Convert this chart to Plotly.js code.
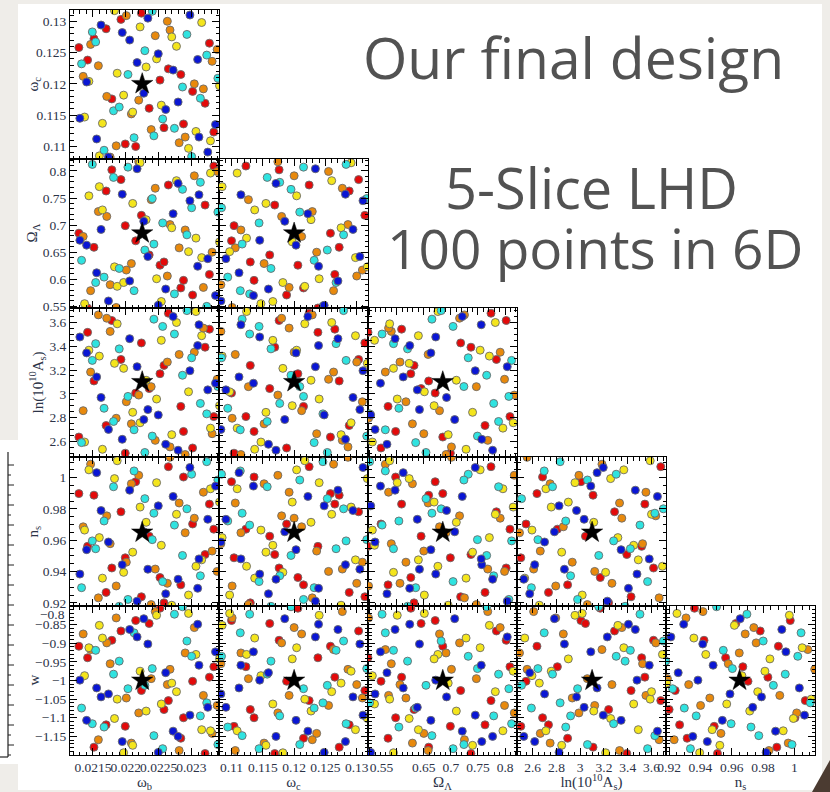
<!DOCTYPE html>
<html>
<head>
<meta charset="utf-8">
<script src="https://cdn.plot.ly/plotly-3.0.1.min.js"></script>
<style>
  html, body { margin: 0; padding: 0; background: #efede9; }
  #chart { width: 830px; height: 792px; }
</style>
</head>
<body>
<div id="chart"></div>
<script>
// 5-slice Latin hypercube design: 5 slices, six cosmological parameters per point.
// Slice 0 red, 1 orange, 2 yellow, 3 cyan, 4 blue.
const slices = [0, 1, 2, 3, 4];
const sliceNames = ['Slice 1', 'Slice 2', 'Slice 3', 'Slice 4', 'Slice 5'];

const omegaB = [
  [0.021285, 0.021418, 0.021515, 0.021700, 0.021787, 0.021926, 0.021992, 0.022151, 0.022238, 0.022356,
   0.022521, 0.022582, 0.022649, 0.022838, 0.022879, 0.023018, 0.023208, 0.023274, 0.023341],
  [0.021351, 0.021464, 0.021582, 0.021710, 0.021762, 0.021854, 0.022008, 0.022085, 0.022197, 0.022387,
   0.022449, 0.022633, 0.022674, 0.022813, 0.022905, 0.023044, 0.023182, 0.023315, 0.023392],
  [0.021372, 0.021438, 0.021597, 0.021644, 0.021828, 0.021869, 0.021967, 0.022105, 0.022218, 0.022310,
   0.022469, 0.022541, 0.022700, 0.022772, 0.022956, 0.023069, 0.023156, 0.023290, 0.023428],
  [0.021326, 0.021490, 0.021541, 0.021669, 0.021813, 0.021900, 0.022033, 0.022126, 0.022290, 0.022403,
   0.022428, 0.022562, 0.022741, 0.022864, 0.022931, 0.023003, 0.023136, 0.023233, 0.023403],
  [0.021300, 0.021403, 0.021556, 0.021623, 0.021736, 0.021946, 0.022059, 0.022172, 0.022274, 0.022336,
   0.022495, 0.022608, 0.022721, 0.022797, 0.022977, 0.023095, 0.023115, 0.023249, 0.023367]
];

const omegaC = [
  [0.1258, 0.1238, 0.1272, 0.1288, 0.1176, 0.1303, 0.1104, 0.1100, 0.1313, 0.1161,
   0.1206, 0.1130, 0.1224, 0.1215, 0.1136, 0.1188, 0.1169, 0.1265, 0.1123],
  [0.1212, 0.1263, 0.1229, 0.1180, 0.1083, 0.1101, 0.1309, 0.1152, 0.1174, 0.1127,
   0.1277, 0.1300, 0.1286, 0.1106, 0.1115, 0.1200, 0.1192, 0.1236, 0.1255],
  [0.1147, 0.1204, 0.1085, 0.1137, 0.1317, 0.1217, 0.1182, 0.1155, 0.1291, 0.1227,
   0.1240, 0.1166, 0.1275, 0.1260, 0.1097, 0.1124, 0.1298, 0.1109, 0.1197],
  [0.1232, 0.1283, 0.1267, 0.1094, 0.1157, 0.1163, 0.1215, 0.1114, 0.1253, 0.1316,
   0.1117, 0.1144, 0.1129, 0.1195, 0.1279, 0.1084, 0.1177, 0.1246, 0.1209],
  [0.1145, 0.1203, 0.1112, 0.1294, 0.1083, 0.1282, 0.1270, 0.1234, 0.1185, 0.1305,
   0.1248, 0.1159, 0.1222, 0.1171, 0.1310, 0.1239, 0.1115, 0.1091, 0.1135]
];

const omegaL = [
  [0.685, 0.547, 0.659, 0.763, 0.802, 0.784, 0.699, 0.671, 0.718, 0.645,
   0.626, 0.632, 0.774, 0.584, 0.598, 0.571, 0.737, 0.609, 0.809],
  [0.679, 0.579, 0.725, 0.716, 0.590, 0.548, 0.617, 0.629, 0.817, 0.747,
   0.768, 0.606, 0.701, 0.658, 0.691, 0.791, 0.585, 0.650, 0.799],
  [0.555, 0.754, 0.771, 0.728, 0.623, 0.587, 0.594, 0.740, 0.815, 0.710,
   0.601, 0.559, 0.695, 0.782, 0.651, 0.676, 0.640, 0.796, 0.669],
  [0.635, 0.812, 0.594, 0.604, 0.788, 0.620, 0.807, 0.579, 0.654, 0.749,
   0.665, 0.704, 0.573, 0.766, 0.682, 0.732, 0.779, 0.550, 0.724],
  [0.672, 0.663, 0.612, 0.692, 0.560, 0.757, 0.597, 0.804, 0.707, 0.642,
   0.552, 0.582, 0.721, 0.777, 0.745, 0.624, 0.756, 0.638, 0.570]
];

const lnAs = [
  [2.636, 3.517, 3.108, 2.733, 3.617, 3.289, 2.500, 3.006, 3.428, 3.044,
   3.169, 3.239, 3.678, 2.894, 2.683, 2.544, 3.392, 3.544, 2.808],
  [2.858, 3.183, 3.664, 3.636, 3.525, 2.794, 2.933, 2.747, 2.989, 3.060,
   2.608, 3.267, 2.553, 3.331, 2.489, 3.350, 3.553, 2.664, 3.122],
  [2.594, 3.367, 3.317, 2.533, 3.256, 3.589, 3.214, 2.844, 2.756, 3.114,
   2.956, 3.450, 2.656, 3.600, 3.017, 3.692, 3.489, 2.711, 2.900],
  [2.589, 3.281, 3.422, 2.878, 2.767, 3.378, 2.978, 2.697, 2.506, 2.644,
   3.628, 3.567, 3.503, 3.156, 3.700, 3.303, 2.919, 2.831, 3.061],
  [3.478, 3.344, 3.142, 2.969, 2.700, 2.617, 3.464, 3.228, 2.783, 2.867,
   2.822, 2.575, 3.650, 2.525, 3.194, 3.406, 3.581, 3.033, 3.089]
];

const nS = [
  [0.9898, 0.9561, 0.9888, 0.9267, 0.9423, 0.9782, 0.9488, 0.9974, 0.9239, 0.9626,
   0.9362, 0.9200, 1.0070, 0.9315, 1.0004, 0.9704, 0.9509, 0.9831, 0.9671],
  [0.9686, 1.0086, 0.9232, 0.9756, 0.9578, 0.9308, 0.9460, 0.9961, 1.0015, 0.9189,
   0.9416, 0.9325, 1.0130, 0.9838, 0.9648, 0.9741, 0.9907, 0.9531, 0.9401],
  [0.9665, 1.0050, 0.9617, 0.9358, 0.9994, 1.0108, 0.9395, 0.9524, 0.9812, 0.9715,
   0.9968, 0.9568, 0.9185, 0.9766, 0.9250, 0.9434, 0.9475, 0.9929, 0.9844],
  [0.9297, 0.9596, 0.9546, 0.9723, 0.9942, 0.9178, 0.9222, 1.0043, 0.9866, 0.9604,
   0.9773, 0.9336, 0.9697, 0.9503, 0.9801, 1.0022, 0.9373, 1.0102, 0.9985],
  [0.9384, 0.9540, 1.0032, 0.9790, 0.9589, 0.9444, 0.9920, 0.9211, 0.9654, 0.9415,
   0.9820, 0.9258, 0.9880, 0.9351, 1.0065, 0.9293, 0.9481, 0.9734, 0.9946]
];

const wDE = [
  [-0.908, -0.939, -1.179, -1.119, -0.892, -0.867, -1.123, -0.839, -1.027, -0.847,
   -0.806, -1.078, -1.054, -1.155, -1.100, -1.002, -1.196, -0.991, -0.963],
  [-0.875, -0.917, -1.159, -0.899, -0.955, -0.832, -1.047, -1.168, -1.087, -0.995,
   -0.815, -1.011, -0.970, -1.188, -0.926, -0.858, -1.040, -1.142, -1.067],
  [-0.987, -0.912, -0.852, -0.886, -1.102, -1.050, -1.194, -1.174, -0.975, -1.082,
   -0.825, -1.063, -1.007, -1.030, -0.820, -0.930, -1.132, -1.135, -0.942],
  [-1.074, -1.116, -0.919, -1.125, -0.983, -0.948, -1.022, -0.872, -1.013, -0.968,
   -1.148, -1.183, -0.822, -0.802, -0.894, -0.935, -1.095, -1.060, -1.172],
  [-0.999, -1.107, -1.020, -1.044, -1.036, -1.164, -0.863, -0.883, -0.834, -0.902,
   -1.193, -0.979, -1.136, -1.150, -1.093, -0.849, -0.959, -1.072, -0.923]
];

// Fiducial cosmology (star)
const fiducial = { omegaB: 0.02225, omegaC: 0.12, omegaL: 0.685, lnAs: 3.1, nS: 0.965, w: -1 };

// Tick values and labels per parameter
const obTicks = [0.0215, 0.022, 0.0225, 0.023];
const obLabels = ['0.0215', '0.022', '0.0225', '0.023'];
const ocTicks = [0.11, 0.115, 0.12, 0.125, 0.13];
const ocLabels = ['0.11', '0.115', '0.12', '0.125', '0.13'];
const olTicks = [0.55, 0.6, 0.65, 0.7, 0.75, 0.8];
const olLabels = ['0.55', '0.6', '0.65', '0.7', '0.75', '0.8'];
const olLabelsX = ['\u00a0\u00a0\u00a0\u00a0\u00a0\u00a0\u00a00.55', ' ', '0.65', '0.7', '0.75', '0.8'];
const lnAsTicks = [2.6, 2.8, 3, 3.2, 3.4, 3.6];
const lnAsLabels = ['2.6', '2.8', '3', '3.2', '3.4', '3.6'];
const nsTicks = [0.92, 0.94, 0.96, 0.98, 1];
const nsLabels = ['0.92', '0.94', '0.96', '0.98', '1'];
const wTicks = [-1.15, -1.1, -1.05, -1, -0.95, -0.9, -0.85];
const wLabels = ['\u22121.15', '\u22121.1', '\u22121.05', '\u22121', '\u22120.95', '\u22120.9', '\u22120.85'];
const wTopLabel = '\u22120.8';   // top tick of w, set just below its tick to clear 0.92 above

const sliceColors = ['#e30a0a', '#e8890c', '#f4e51c', '#2fe3e0', '#0a16d4'];

const params = [
  { data: omegaB, fid: fiducial.omegaB, range: [0.02115, 0.02342], ticks: obTicks, labels: obLabels, minor: 0.0001,
    title: '\u03c9<sub>b</sub>' },
  { data: omegaC, fid: fiducial.omegaC, range: [0.1080, 0.1318], ticks: ocTicks, labels: ocLabels, minor: 0.001,
    title: '\u03c9<sub>c</sub>' },
  { data: omegaL, fid: fiducial.omegaL, range: [0.547, 0.822], ticks: olTicks, labels: olLabels, labelsX: olLabelsX, minor: 0.01,
    title: '\u03a9<sub>\u039b</sub>' },
  { data: lnAs, fid: fiducial.lnAs, range: [2.468, 3.722], ticks: lnAsTicks, labels: lnAsLabels, minor: 0.05,
    title: 'ln(10<sup>10</sup>A<sub>s</sub>)' },
  { data: nS, fid: fiducial.nS, range: [0.918, 1.0132], ticks: nsTicks, labels: nsLabels, minor: 0.005,
    title: 'n<sub>s</sub>' },
  { data: wDE, fid: fiducial.w, range: [-1.2, -0.8], ticks: wTicks.concat([-0.8]), labels: wLabels.concat([' ']), minor: 0.01,
    title: 'w' }
];

// Page geometry of the triangle grid (pixels)
const W = 830, H = 792;
const gridLeft = 70, gridTop = 10, cell = 149;
const px2x = v => v / W;
const px2y = v => 1 - v / H;

const labelFont = { family: 'Liberation Serif, Times New Roman, serif', size: 13.5, color: '#2c3347' };
const titleFont = { family: 'Liberation Serif, Times New Roman, serif', size: 15, color: '#2c3347' };

const traces = [];
const shapes = [
  // slide panel behind the figure
  { type: 'rect', xref: 'paper', yref: 'paper', layer: 'below',
    x0: px2x(18), x1: px2x(822), y0: px2y(790), y1: px2y(4),
    fillcolor: '#ffffff', line: { width: 0 } },
  // edge of a neighbouring plot on the left of the slide
  { type: 'rect', xref: 'paper', yref: 'paper', layer: 'below',
    x0: px2x(0), x1: px2x(60), y0: px2y(764), y1: px2y(440),
    fillcolor: '#ffffff', line: { width: 0 } },
  { type: 'line', xref: 'paper', yref: 'paper',
    x0: px2x(8), x1: px2x(8), y0: px2y(757), y1: px2y(452),
    line: { color: '#222', width: 1.2 } },
  { type: 'line', xref: 'paper', yref: 'paper',
    x0: px2x(0), x1: px2x(8), y0: px2y(757), y1: px2y(757),
    line: { color: '#222', width: 1.2 } },
  // dark corner at the bottom right
  { type: 'path', xref: 'paper', yref: 'paper',
    path: `M ${px2x(812)} ${px2y(792)} L ${px2x(830)} ${px2y(760)} L ${px2x(830)} ${px2y(792)} Z`,
    fillcolor: '#4b3b31', line: { width: 0 } }
];
for (let yy = 465; yy < 757; yy += 20) {
  shapes.push({ type: 'line', xref: 'paper', yref: 'paper',
    x0: px2x(8), x1: px2x(14), y0: px2y(yy), y1: px2y(yy), line: { color: '#222', width: 1 } });
  shapes.push({ type: 'line', xref: 'paper', yref: 'paper',
    x0: px2x(8), x1: px2x(11), y0: px2y(yy + 10), y1: px2y(yy + 10), line: { color: '#222', width: 1 } });
}

const layout = {
  width: W, height: H,
  margin: { l: 0, r: 0, t: 0, b: 0 },
  paper_bgcolor: '#efede9',
  plot_bgcolor: '#ffffff',
  showlegend: false,
  shapes: shapes,
  annotations: []
};

function axisBase(p, domain, anchor, isX, showLabels) {
  const ax = {
    domain: domain, anchor: anchor,
    range: p.range, autorange: false, fixedrange: true,
    showgrid: false, zeroline: false,
    showline: true, linecolor: '#000', linewidth: 1, mirror: 'allticks',
    ticks: 'inside', ticklen: 7, tickwidth: 1, tickcolor: '#000',
    tickmode: 'array', tickvals: p.ticks,
    ticktext: (isX && p.labelsX) ? p.labelsX : p.labels,
    tickangle: 0,
    showticklabels: showLabels,
    tickfont: labelFont,
    minor: { tick0: 0, dtick: p.minor, ticks: 'inside', ticklen: 3.5, tickwidth: 1, tickcolor: '#000', showgrid: false }
  };
  if (showLabels && isX) {
    ax.title = { text: p.title, font: titleFont, standoff: 4 };
  }
  return ax;
}

let k = 0;
for (let r = 1; r <= 5; r++) {          // rows: omega_c, Omega_L, lnAs, n_s, w
  const py = params[r];
  for (let c = 0; c < r; c++) {          // cols: omega_b, omega_c, Omega_L, lnAs, n_s
    const px = params[c];
    k++;
    const xName = k === 1 ? 'xaxis' : 'xaxis' + k;
    const yName = k === 1 ? 'yaxis' : 'yaxis' + k;
    const xRef = k === 1 ? 'x' : 'x' + k;
    const yRef = k === 1 ? 'y' : 'y' + k;

    const left = gridLeft + c * cell, top = gridTop + (r - 1) * cell;
    const xDom = [px2x(left), px2x(left + cell)];
    const yDom = [px2y(top + cell), px2y(top)];

    layout[xName] = axisBase(px, xDom, yRef, true, r === 5);
    layout[yName] = axisBase(py, yDom, xRef, false, c === 0);

    slices.forEach(s => {
      traces.push({
        type: 'scatter', mode: 'markers', name: sliceNames[s],
        x: px.data[s], y: py.data[s], xaxis: xRef, yaxis: yRef,
        marker: { size: 8, color: sliceColors[s], line: { color: '#6a6a6a', width: 0.9 } },
        hoverinfo: 'skip'
      });
    });
    traces.push({
      type: 'scatter', mode: 'markers', name: 'fiducial',
      x: [px.fid], y: [py.fid], xaxis: xRef, yaxis: yRef,
      marker: { symbol: 'star', size: 16, color: '#000', line: { color: '#000', width: 0.5 } },
      hoverinfo: 'skip'
    });
  }

  // row title on the left, rotated, a fixed distance from the grid edge
  layout.annotations.push({
    text: py.title, xref: 'paper', yref: 'paper',
    x: px2x(r === 3 ? 38 : 33), y: px2y(gridTop + (r - 1) * cell + cell / 2),
    xanchor: 'center', yanchor: 'middle', textangle: -90, showarrow: false, font: titleFont
  });
}

// top label of the w axis
layout.annotations.push({
  text: wTopLabel, xref: 'paper', yref: 'paper', x: px2x(gridLeft - 3), y: px2y(614),
  xanchor: 'right', yanchor: 'middle', showarrow: false, font: labelFont
});

// Slide text
const slideFont = { family: 'Open Sans, sans-serif', color: '#525252' };
layout.annotations.push(
  { text: 'Our final design', xref: 'paper', yref: 'paper', x: px2x(573), y: px2y(57),
    showarrow: false, xanchor: 'center', yanchor: 'middle', font: Object.assign({ size: 57 }, slideFont) },
  { text: '5-Slice LHD', xref: 'paper', yref: 'paper', x: px2x(591), y: px2y(187),
    showarrow: false, xanchor: 'center', yanchor: 'middle', font: Object.assign({ size: 56 }, slideFont) },
  { text: '100 points in 6D', xref: 'paper', yref: 'paper', x: px2x(595), y: px2y(247),
    showarrow: false, xanchor: 'center', yanchor: 'middle', font: Object.assign({ size: 55 }, slideFont) }
);

Plotly.newPlot('chart', traces, layout, { displayModeBar: false, staticPlot: true });
</script>
</body>
</html>
